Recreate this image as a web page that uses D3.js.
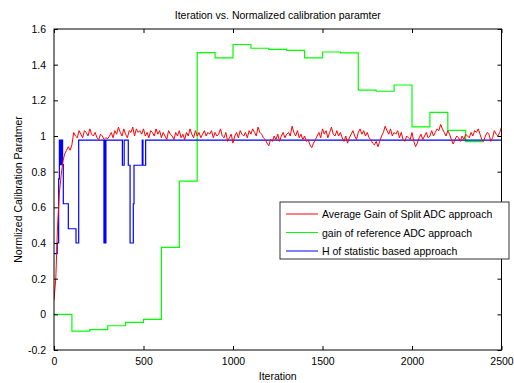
<!DOCTYPE html>
<html>
  <head>
    <meta charset="utf-8">
    <title>Iteration vs. Normalized calibration paramter</title>
    <style>
      body { margin: 0; background: #fff; }
      svg { display: block; font-family: "Liberation Sans", Arial, sans-serif; }
      .axis path, .axis line { stroke: #000; }
      .axis text { font-size: 10.5px; fill: #000; }
    </style>
  </head>
  <body>
    <div id="chart"></div>
    <script src="https://cdn.jsdelivr.net/npm/d3@7"></script>
    <script>
      (function(d3) {
        'use strict';

        // red: average gain of split ADC, sampled every 10 iterations
        var redStep = 10;
        var redValues = [
          0.08, 0.2, 0.5, 0.68, 0.78, 0.86, 0.9, 0.92, 0.94, 0.92,
          0.95, 1.02, 1.0, 0.99, 1.03, 1.01, 0.99, 1.03, 1.02, 1.0,
          1.04, 1.01, 1.0, 1.02, 0.99, 0.98, 1.01, 1.0, 0.98, 0.99,
          0.985, 1.0, 1.02, 0.99, 1.03, 1.01, 1.05, 1.02, 1.0, 1.04,
          1.01, 0.99, 1.03, 1.02, 1.05, 1.0, 1.04, 1.02, 1.03, 1.01,
          1.04, 1.0, 1.02, 0.99, 1.03, 1.02, 1.0, 1.04, 1.01, 1.03,
          0.99, 1.02, 1.0, 0.98, 1.03, 1.01, 1.0, 0.98, 1.02, 1.0,
          1.03, 0.99, 1.01, 0.98, 1.02, 1.0, 1.04, 1.01, 0.99, 1.03,
          1.0, 1.02, 0.99, 1.01, 1.03, 1.0, 1.02, 1.01, 1.03, 0.99,
          1.02, 1.0, 1.01, 1.04, 1.0, 0.99, 1.02, 0.97, 0.99, 1.01,
          0.96, 1.0, 1.02, 0.99, 1.03, 1.01, 1.0, 1.02, 0.99, 1.03,
          1.01, 1.04, 1.02, 1.0, 1.05, 1.02, 1.01, 0.99, 0.98, 0.96,
          0.945, 0.98, 0.97, 1.0, 0.98, 1.01, 0.97, 1.0, 1.02, 0.99,
          1.01, 1.02, 1.0, 1.055, 1.02, 1.0, 1.03, 0.99, 1.01, 0.98,
          1.0, 0.97, 0.98, 0.95, 0.935, 0.96, 0.98, 1.0, 1.02, 0.99,
          1.04, 1.01, 1.03, 0.99, 1.02, 1.05, 1.01, 1.0, 1.03, 1.0,
          1.02, 0.99, 0.97, 1.0, 0.96, 0.99, 1.01, 1.03, 1.0, 0.98,
          1.02, 1.04, 1.01, 1.03, 1.0, 1.02, 0.99, 0.98, 0.96, 0.95,
          0.97, 0.94, 0.97, 1.0, 1.02, 1.055, 1.03, 1.01, 1.04, 1.0,
          1.02, 1.01, 1.03, 0.99, 1.02, 0.98, 0.97, 1.0, 0.99, 0.98,
          1.02, 0.97, 0.94, 0.96, 0.99, 1.01, 0.98, 1.0, 1.02, 0.99,
          1.0, 1.03, 1.0, 1.02, 1.04, 1.03, 1.065, 1.04, 1.02, 1.0,
          1.03, 1.01, 0.98, 0.955, 0.98, 1.0, 0.99, 0.97, 1.0, 0.98,
          1.01, 1.0, 0.99, 1.02, 1.0, 1.03, 1.02, 1.04, 1.01, 0.98,
          0.97, 1.0, 1.02, 1.01, 0.97, 0.99, 1.03, 1.01, 1.0, 1.02,
          1.05
        ];

        // green: gain of reference ADC (steps)
        var greenIter = [0, 100, 200, 300, 400, 500, 600, 700, 800, 900, 1000, 1100, 1200, 1300,
          1400, 1500, 1600, 1700, 1800, 1900, 2000, 2100, 2200, 2300, 2400];
        var greenValues = [0, -0.094, -0.086, -0.064, -0.045, -0.028, 0.375, 0.747, 1.468, 1.438,
          1.513, 1.492, 1.486, 1.48, 1.438, 1.471, 1.466, 1.257, 1.251, 1.286, 1.051, 1.133,
          1.032, 0.969, 0.969];

        // blue: H of statistic based approach (steps)
        var blueIter = [0, 18, 26, 30, 34, 37, 41, 44, 48, 52, 80, 123, 138, 279, 283, 287, 290,
          382, 392, 415, 425, 443, 447, 493, 497, 512, 2500];
        var blueValues = [0.34, 0.40, 0.76, 0.977, 0.84, 0.977, 0.84, 0.977, 0.84, 0.62, 0.48, 0.40,
          0.977, 0.40, 0.977, 0.40, 0.977, 0.836, 0.977, 0.836, 0.40, 0.62, 0.836, 0.977, 0.836,
          0.977, 0.977];

        var xTicks = [0, 500, 1000, 1500, 2000, 2500];
        var yTicks = [-0.2, 0, 0.2, 0.4, 0.6, 0.8, 1, 1.2, 1.4, 1.6];
        var legendLabels = ['Average Gain of Split ADC approach', 'gain of reference ADC approach',
          'H of statistic based approach'];
        var colors = ['#ff0000', '#00ff00', '#0000ff'];

        var width = 514, height = 383;
        var left = 54, right = 501.5, top = 29, bottom = 350;

        var svg = d3.select('#chart').append('svg')
          .attr('width', width)
          .attr('height', height);

        var x = d3.scaleLinear().domain([0, 2500]).range([left, right]);
        var y = d3.scaleLinear().domain([-0.2, 1.6]).range([bottom, top]);

        var red = redValues.map(function(v, i) { return [i * redStep, v]; });
        var green = greenIter.map(function(t, i) { return [t, greenValues[i]]; });
        var blue = blueIter.map(function(t, i) { return [t, blueValues[i]]; });

        var plot = svg.append('g');
        plot.append('clipPath').attr('id', 'clip')
          .append('rect').attr('x', left).attr('y', top)
          .attr('width', right - left).attr('height', bottom - top);

        var lineStep = d3.line().x(function(d) { return x(d[0]); })
          .y(function(d) { return y(d[1]); }).curve(d3.curveStepAfter);
        var lineLin = d3.line().x(function(d) { return x(d[0]); })
          .y(function(d) { return y(d[1]); });

        var lines = plot.append('g').attr('clip-path', 'url(#clip)');
        lines.append('path').attr('d', lineStep(green)).attr('fill', 'none')
          .attr('stroke', colors[1]).attr('stroke-width', 1.2);
        lines.append('path').attr('d', lineStep(blue)).attr('fill', 'none')
          .attr('stroke', colors[2]).attr('stroke-width', 1.2);
        lines.append('path').attr('d', lineLin(red)).attr('fill', 'none')
          .attr('stroke', colors[0]).attr('stroke-width', 1);

        // axes, ticks pointing inward on all four sides
        svg.append('g').attr('class', 'axis')
          .attr('transform', 'translate(0,' + bottom + ')')
          .call(d3.axisBottom(x).tickValues(xTicks).tickSizeInner(-4).tickSizeOuter(0).tickPadding(8)
            .tickFormat(d3.format('d')));
        svg.append('g').attr('class', 'axis')
          .attr('transform', 'translate(0,' + top + ')')
          .call(d3.axisTop(x).tickValues(xTicks).tickSizeInner(-4).tickSizeOuter(0).tickFormat(''));
        svg.append('g').attr('class', 'axis')
          .attr('transform', 'translate(' + left + ',0)')
          .call(d3.axisLeft(y).tickValues(yTicks).tickSizeInner(-4).tickSizeOuter(0).tickPadding(8)
            .tickFormat(function(d) { return String(+d.toFixed(1)); }));
        svg.append('g').attr('class', 'axis')
          .attr('transform', 'translate(' + right + ',0)')
          .call(d3.axisRight(y).tickValues(yTicks).tickSizeInner(-4).tickSizeOuter(0).tickFormat(''));

        svg.selectAll('.axis .domain').remove();
        svg.append('rect').attr('x', left).attr('y', top)
          .attr('width', right - left).attr('height', bottom - top)
          .attr('fill', 'none').attr('stroke', '#000');

        svg.append('text').attr('x', (left + right) / 2).attr('y', 19)
          .attr('text-anchor', 'middle').style('font-size', '10.5px')
          .text('Iteration vs. Normalized calibration paramter');
        svg.append('text').attr('x', (left + right) / 2).attr('y', 380)
          .attr('text-anchor', 'middle').style('font-size', '10.5px')
          .text('Iteration');
        svg.append('text')
          .attr('transform', 'translate(22,' + ((top + bottom) / 2) + ') rotate(-90)')
          .attr('text-anchor', 'middle').style('font-size', '10.5px')
          .text('Normlized Calibration Paratmer');

        // legend
        var legend = svg.append('g').attr('transform', 'translate(280,202)');
        legend.append('rect').attr('width', 229).attr('height', 57)
          .attr('fill', '#fff').attr('stroke', '#333');
        legendLabels.forEach(function(label, i) {
          var ly = 12 + i * 18.5;
          legend.append('line').attr('x1', 6).attr('x2', 38).attr('y1', ly).attr('y2', ly)
            .attr('stroke', colors[i]);
          legend.append('text').attr('x', 42).attr('y', ly + 4)
            .style('font-size', '10.5px').text(label);
        });
      })(window.d3);
    </script>
  </body>
</html>
